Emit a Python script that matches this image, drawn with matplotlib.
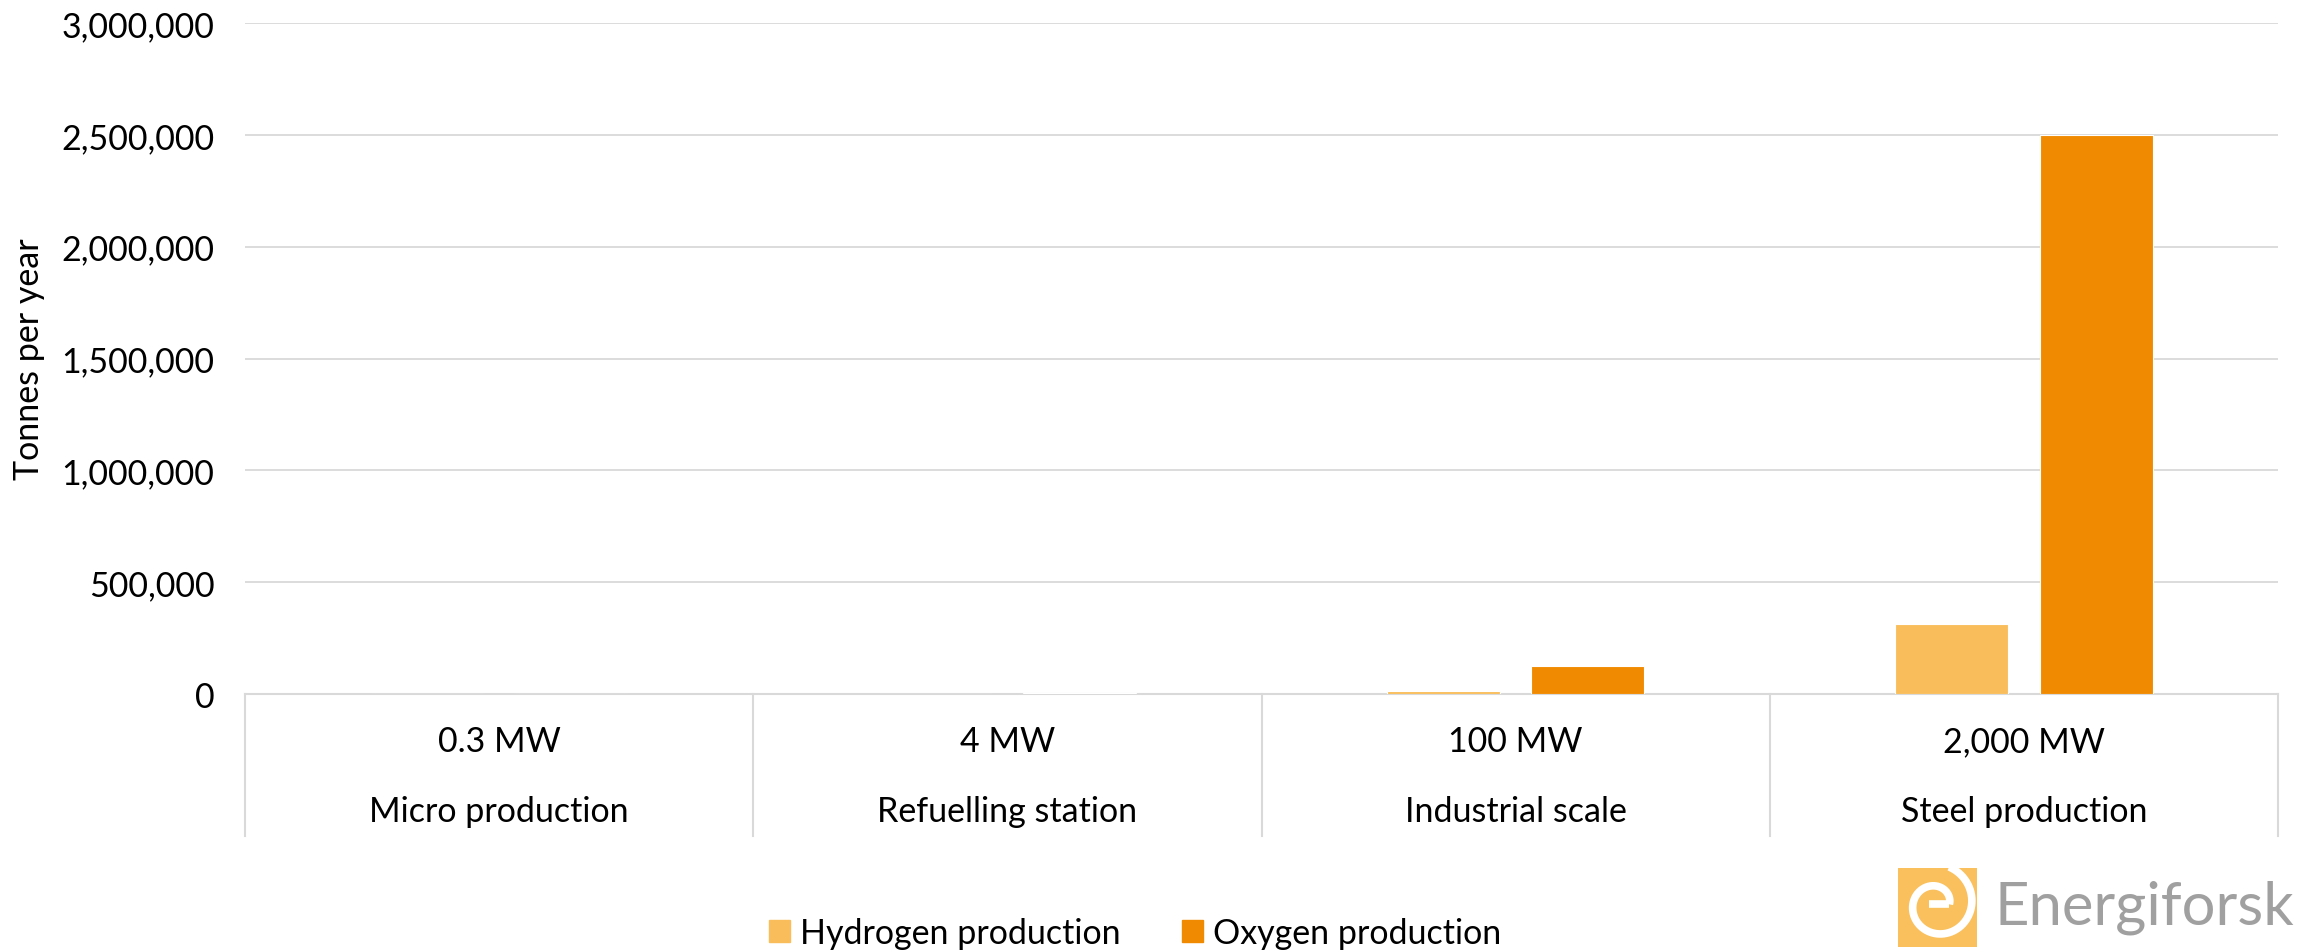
import numpy as np
import matplotlib.pyplot as plt
import matplotlib.transforms as mtransforms
from matplotlib.patches import Patch, Rectangle

plt.rcParams['font.family'] = ['Lato', 'DejaVu Sans']

# Electrolyser sizes and yearly output (tonnes)
capacity = ['0.3 MW', '4 MW', '100 MW', '2,000 MW']
use_case = ['Micro production', 'Refuelling station', 'Industrial scale', 'Steel production']
hydrogen = [47, 625, 15625, 312500]
oxygen = [375, 5000, 125000, 2500000]
y_ticks = [0, 500000, 1000000, 1500000, 2000000, 2500000, 3000000]

c_h2 = '#F9BE5B'
c_o2 = '#F08A00'
grid_c = '#D9D9D9'
fs = 24.5

fig = plt.figure(figsize=(23.03, 9.53), dpi=100)
ax = fig.add_axes([0.1064, 0.2707, 0.8828, 0.7041])

x = np.arange(len(capacity))
w = 0.222
ax.bar(x - 0.142, hydrogen, w, color=c_h2, edgecolor='white', linewidth=0.8, zorder=3)
ax.bar(x + 0.142, oxygen, w, color=c_o2, edgecolor='white', linewidth=0.8, zorder=3)

ax.set_xlim(-0.5, len(capacity) - 0.5)
ax.set_ylim(0, 3000000)
ax.set_yticks(y_ticks)
ax.set_yticklabels([f'{v:,}' for v in y_ticks], fontsize=fs)
ax.tick_params(axis='y', length=0, pad=22)
ax.set_xticks([])
ax.grid(axis='y', color=grid_c, linewidth=1.3, zorder=0)
for s in ['top', 'right', 'left']:
    ax.spines[s].set_visible(False)
ax.spines['bottom'].set_color(grid_c)
ax.spines['bottom'].set_linewidth(1.5)
ax.set_ylabel('Tonnes per year', fontsize=fs, labelpad=12)

# two-level category axis with separators
trans = mtransforms.blended_transform_factory(ax.transData, ax.transAxes)
for b in np.arange(-0.5, len(capacity), 1.0):
    ax.plot([b, b], [0, -0.2116], transform=trans, color=grid_c,
            linewidth=1.5, clip_on=False)
for i in x:
    ax.text(i, -0.070, capacity[i], transform=trans, ha='center', va='center', fontsize=fs)
    ax.text(i, -0.174, use_case[i], transform=trans, ha='center', va='center', fontsize=fs)

handles = [Patch(color=c_h2, label='Hydrogen production'),
           Patch(color=c_o2, label='Oxygen production')]
fig.legend(handles=handles, loc='center', bbox_to_anchor=(0.493, 0.020), ncol=2,
           frameon=False, fontsize=fs, handlelength=0.62, handleheight=0.62,
           handletextpad=0.3, columnspacing=1.8)

# logo in the lower right corner
lax = fig.add_axes([1898 / 2303, 1 - 948 / 953, 79 / 2303, 79 / 953])
lax.set_xlim(0, 1)
lax.set_ylim(0, 1)
lax.axis('off')
lax.add_patch(Rectangle((0, 0), 1, 1, color='#F9C05D'))
cx, cy = 0.49, 0.54
t = np.linspace(0, 2 * np.pi + 1.25, 300)
r = 0.16 + 0.045 * t
lax.plot(cx + r * np.cos(t), cy + r * np.sin(t), color='white', linewidth=5.5,
         solid_capstyle='butt')
lax.plot([cx - 0.10, cx + 0.16], [cy, cy], color='white', linewidth=5.5,
         solid_capstyle='butt')
fig.text(1995 / 2303, 1 - 908 / 953, 'Energiforsk', fontsize=43, color='#A0A0A0',
         ha='left', va='center')

fig.savefig('out.png', dpi=100)
